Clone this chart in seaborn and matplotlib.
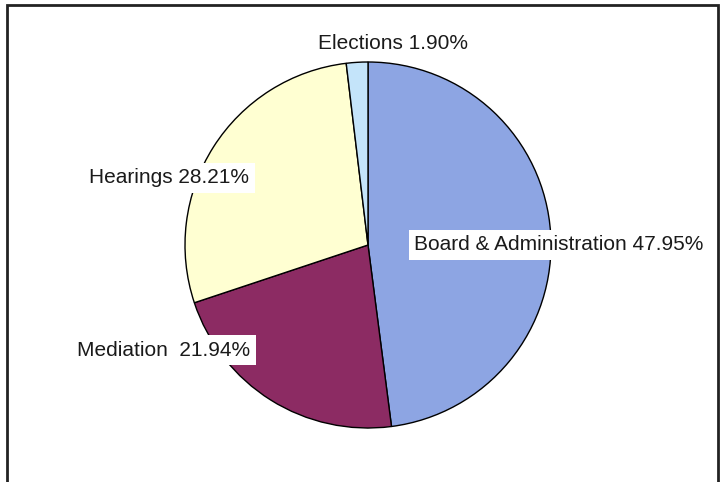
import matplotlib
matplotlib.use('Agg')
import matplotlib.pyplot as plt
import seaborn as sns

# Budget share by program
categories = ['Board & Administration', 'Mediation', 'Hearings', 'Elections']
shares = [47.95, 21.94, 28.21, 1.90]
label_texts = ['Board & Administration 47.95%', 'Mediation  21.94%', 'Hearings 28.21%', 'Elections 1.90%']
colors = ['#8DA5E3', '#8C2B63', '#FFFFD2', '#C4E4FA']

sns.set_theme(style='white')
plt.rcParams['font.family'] = ['Liberation Sans', 'DejaVu Sans']

fig = plt.figure(figsize=(7.22, 4.82), dpi=100)
ax = fig.add_axes([0, 0, 1, 1])

# pie centred at pixel (368, 245), radius 183 px
r_px = 183.0
cx, cy = 368.0, 245.0
ax.pie(shares, colors=colors, startangle=90, counterclock=False,
       wedgeprops=dict(edgecolor='black', linewidth=1.0))
ax.set_aspect('auto')
ax.set_xlim(-cx / r_px, (722 - cx) / r_px)
ax.set_ylim(-(482 - cy) / r_px, cy / r_px)
ax.axis('off')

# label centres in pixels (x from left, y from top)
label_px = [(559, 245), (164, 350), (169, 178), (393, 44)]
for txt, (px, py) in zip(label_texts, label_px):
    ax.text((px - cx) / r_px, (cy - py) / r_px, txt, ha='center', va='center',
            fontsize=15, color='#1a1a1a',
            bbox=dict(facecolor='white', edgecolor='none', pad=4))

# outer frame (bottom edge falls just outside the picture)
fig.add_artist(plt.Rectangle((7 / 722, -3 / 482), 711 / 722, 480 / 482,
                             transform=fig.transFigure, fill=False,
                             edgecolor='#222222', linewidth=2))

fig.savefig('out.png', dpi=100)
